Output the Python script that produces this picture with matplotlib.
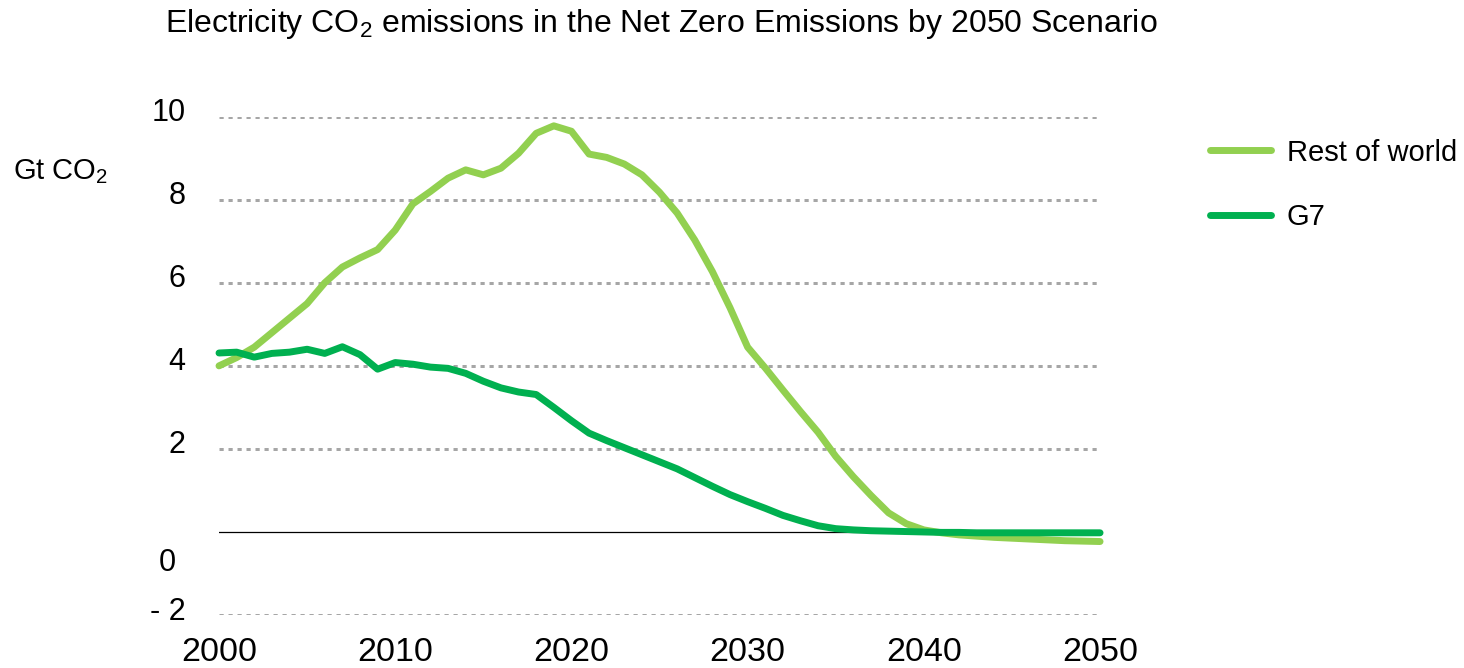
import matplotlib
matplotlib.use("Agg")
import matplotlib.pyplot as plt
from matplotlib.transforms import ScaledTranslation

plt.rcParams['font.family'] = ['Liberation Sans', 'DejaVu Sans']
plt.rcParams['mathtext.fontset'] = 'custom'
plt.rcParams['mathtext.rm'] = 'Liberation Sans'

# Electricity sector CO2 emissions, Gt CO2
years = list(range(2000, 2051))
rest_of_world = [4.00, 4.20, 4.45, 4.80, 5.15, 5.50, 6.00, 6.38, 6.60, 6.80,
                 7.27, 7.90, 8.20, 8.52, 8.72, 8.60, 8.76, 9.12, 9.60, 9.78,
                 9.65, 9.10, 9.02, 8.86, 8.60, 8.18, 7.68, 7.03, 6.27, 5.40,
                 4.45, 3.95, 3.42, 2.90, 2.40, 1.82, 1.33, 0.88, 0.46, 0.20,
                 0.05, -0.02, -0.07, -0.10, -0.13, -0.15, -0.17, -0.19, -0.21, -0.22,
                 -0.23]
g7 = [4.31, 4.33, 4.21, 4.30, 4.33, 4.40, 4.30, 4.46, 4.27, 3.92,
      4.08, 4.04, 3.97, 3.94, 3.82, 3.63, 3.47, 3.37, 3.31, 3.00,
      2.68, 2.38, 2.20, 2.03, 1.86, 1.69, 1.52, 1.31, 1.10, 0.90,
      0.73, 0.57, 0.40, 0.27, 0.15, 0.08, 0.05, 0.03, 0.02, 0.01,
      0.00, -0.01, -0.01, -0.02, -0.02, -0.02, -0.02, -0.02, -0.02, -0.02,
      -0.02]

grid_levels = [10, 8, 6, 4, 2, -2]
ytick_vals = [10, 8, 6, 4, 2, 0, -2]
ytick_text = ['10', '8', '6', '4', '2', '0', '- 2']
xtick_vals = [2000, 2010, 2020, 2030, 2040, 2050]

fig = plt.figure(figsize=(14.64, 6.68), dpi=100)
ax = fig.add_axes([0.1496, 0.0793, 0.6018, 0.746])

# dotted gridlines and the zero line
for lvl in grid_levels:
    ax.plot([2000, 2050], [lvl, lvl], color='#a6a6a6', linewidth=2.16,
            dashes=(1.4, 1.6), solid_capstyle='butt', snap=True, zorder=1)
ax.plot([2000, 2050], [0, 0], color='black', linewidth=0.9, zorder=2)

ax.plot(years, rest_of_world, color='#92d050', linewidth=5, solid_capstyle='round',
        solid_joinstyle='round', label='Rest of world', zorder=3, clip_on=False)
ax.plot(years, g7, color='#00b050', linewidth=5, solid_capstyle='round',
        solid_joinstyle='round', label='G7', zorder=4, clip_on=False)

ax.set_xlim(2000, 2050)
ax.set_ylim(-2, 10)
for s in ax.spines.values():
    s.set_visible(False)

ax.set_xticks(xtick_vals)
ax.set_xticklabels([str(v) for v in xtick_vals])
ax.set_yticks(ytick_vals)
ax.set_yticklabels(ytick_text)
ax.tick_params(axis='both', length=0)
ax.tick_params(axis='x', pad=16, labelsize=24.5)
ax.tick_params(axis='y', pad=24, labelsize=22)

# labels sit a little above their gridlines; "0" sits below its line
for lab, val in zip(ax.get_yticklabels(), ytick_vals):
    if val == 0:
        off = ScaledTranslation(-10 / 100, -28 / 100, fig.dpi_scale_trans)
    else:
        off = ScaledTranslation(0, 7 / 100, fig.dpi_scale_trans)
    lab.set_transform(lab.get_transform() + off)

fig.text(13 / 1464, 1 - 172 / 668, 'Gt CO$_\\mathregular{2}$', fontsize=21,
         ha='left', va='center')
fig.text(0.4518, 1 - 24 / 668,
         'Electricity CO$_\\mathregular{2}$ emissions in the Net Zero Emissions by 2050 Scenario',
         fontsize=23, ha='center', va='center')

ax.legend(loc='upper left', bbox_to_anchor=(1195 / 1464, 1 - 124 / 668),
          bbox_transform=fig.transFigure, frameon=False, fontsize=21,
          handlelength=2.1, handletextpad=0.55, labelspacing=1.25, borderpad=0)

fig.savefig('out.png', dpi=100)
